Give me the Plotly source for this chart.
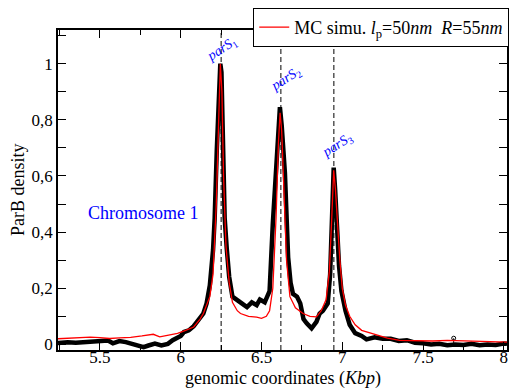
import plotly.graph_objects as go

# ---- data ----
exp_x = [5.24, 5.30, 5.35, 5.40, 5.45, 5.50, 5.55, 5.58, 5.62, 5.66, 5.70, 5.74, 5.77, 5.80, 5.84,
         5.88, 5.92, 5.95, 5.98, 6.00, 6.02, 6.05, 6.08, 6.10, 6.12, 6.14, 6.16, 6.18, 6.20, 6.21,
         6.223, 6.235, 6.245, 6.252, 6.262, 6.272, 6.285, 6.30, 6.32, 6.35, 6.38, 6.41, 6.44, 6.47,
         6.49, 6.52, 6.55, 6.57, 6.594, 6.608, 6.614, 6.625, 6.645, 6.665, 6.68, 6.695, 6.72, 6.74,
         6.76, 6.78, 6.81, 6.84, 6.86, 6.88, 6.91, 6.925, 6.933, 6.947, 6.956, 6.966, 6.98, 6.995,
         7.02, 7.046, 7.08, 7.12, 7.15, 7.20, 7.25, 7.30, 7.35, 7.40, 7.45, 7.50, 7.55, 7.60, 7.65,
         7.70, 7.75, 7.80, 7.85, 7.90, 7.95, 8.00, 8.02]
exp_y = [0.005, 0.008, 0.006, 0.008, 0.006, 0.008, 0.014, 0.004, 0.012, 0.008, 0.002, -0.008, -0.010,
         -0.004, 0.003, -0.004, 0.002, 0.015, 0.025, 0.030, 0.044, 0.050, 0.065, 0.080, 0.093, 0.110,
         0.146, 0.210, 0.336, 0.450, 0.690, 0.900, 1.000, 0.970, 0.600, 0.450, 0.340, 0.240, 0.170,
         0.155, 0.145, 0.133, 0.150, 0.140, 0.160, 0.150, 0.190, 0.430, 0.670, 0.820, 0.845, 0.780,
         0.610, 0.310, 0.220, 0.180, 0.170, 0.146, 0.090, 0.075, 0.057, 0.080, 0.110, 0.120, 0.146,
         0.250, 0.430, 0.630, 0.550, 0.430, 0.280, 0.190, 0.120, 0.070, 0.040, 0.030, 0.018, 0.025,
         0.020, 0.020, 0.012, 0.015, 0.006, 0.004, 0.000, 0.002, -0.003, 0.000, -0.002, 0.002, -0.003,
         0.000, -0.002, 0.003, 0.002]

sim_x = [5.24, 5.30, 5.36, 5.44, 5.50, 5.56, 5.62, 5.69, 5.76, 5.83, 5.87, 5.92, 5.98, 6.03, 6.08,
         6.12, 6.14, 6.18, 6.20, 6.22, 6.235, 6.245, 6.255, 6.265, 6.28, 6.30, 6.32, 6.35, 6.37, 6.42,
         6.47, 6.50, 6.53, 6.55, 6.57, 6.59, 6.605, 6.615, 6.625, 6.64, 6.655, 6.676, 6.71, 6.757,
         6.80, 6.84, 6.87, 6.90, 6.92, 6.935, 6.947, 6.958, 6.97, 6.985, 7.00, 7.02, 7.046, 7.08,
         7.12, 7.15, 7.21, 7.28, 7.355, 7.45, 7.56, 7.65, 7.75, 7.85, 7.95, 8.02]
sim_y = [0.020, 0.022, 0.024, 0.026, 0.024, 0.021, 0.023, 0.025, 0.030, 0.036, 0.027, 0.033, 0.039,
         0.050, 0.062, 0.090, 0.110, 0.170, 0.250, 0.500, 0.850, 1.000, 0.900, 0.600, 0.350, 0.220,
         0.150, 0.120, 0.110, 0.100, 0.097, 0.093, 0.100, 0.120, 0.200, 0.450, 0.720, 0.825, 0.760,
         0.500, 0.300, 0.170, 0.130, 0.110, 0.100, 0.098, 0.120, 0.160, 0.260, 0.450, 0.620, 0.550,
         0.420, 0.300, 0.200, 0.140, 0.100, 0.070, 0.050, 0.045, 0.035, 0.022, 0.014, 0.012, 0.012,
         0.014, 0.012, 0.010, 0.008, 0.008]

outlier_x = [7.69]
outlier_y = [0.022]

pars_pos = [6.25, 6.62, 6.948]
pars_labels = ["<i>parS</i><sub>1</sub>", "<i>parS</i><sub>2</sub>", "<i>parS</i><sub>3</sub>"]
pars_label_x = [6.256, 6.65, 6.97]
pars_label_y = [1.05, 0.943, 0.71]

x_range = [5.24, 8.02]
x_tickvals = [5.5, 6, 6.5, 7, 7.5, 8]
x_ticktext = ["5.5", "6", "6.5", "7", "7.5", "8"]
y_tickvals = [0, 0.2, 0.4, 0.6, 0.8, 1.0]
y_ticktext = ["0", "0,2", "0,4", "0,6", "0,8", "1"]

FONT = "Liberation Serif"

fig = go.Figure()

fig.add_trace(go.Scatter(x=exp_x, y=exp_y, mode="lines", line=dict(color="black", width=4.5),
                         showlegend=False, hoverinfo="skip"))
fig.add_trace(go.Scatter(x=outlier_x, y=outlier_y, mode="markers",
                         marker=dict(symbol="circle-open", size=4, color="black", line=dict(width=1)),
                         error_y=dict(type="data", array=[0], arrayminus=[0.02], color="black",
                                      thickness=1, width=0),
                         showlegend=False, hoverinfo="skip"))
fig.add_trace(go.Scatter(x=sim_x, y=sim_y, mode="lines", line=dict(color="red", width=1.3),
                         name="MC simu. <i>l</i><sub>p</sub>=50<i>nm</i>&nbsp;&nbsp;<i>R</i>=55<i>nm</i>",
                         showlegend=True, hoverinfo="skip"))
# empty trace that only activates the tick-label axis (x2)
fig.add_trace(go.Scatter(x=x_range, y=[None, None], xaxis="x2", yaxis="y", mode="lines",
                         showlegend=False, hoverinfo="skip"))

for p in pars_pos:
    fig.add_shape(type="line", xref="x", yref="paper", x0=p, x1=p, y0=0, y1=1,
                  line=dict(color="black", width=1, dash="5px,3px"), layer="below")

for lx, ly, txt in zip(pars_label_x, pars_label_y, pars_labels):
    fig.add_annotation(x=lx, y=ly, text=txt, showarrow=False, textangle=-33,
                       font=dict(family=FONT, size=14, color="blue"))

fig.add_annotation(x=5.77, y=0.468, text="Chromosome 1", showarrow=False,
                   font=dict(family=FONT, size=18, color="blue"))

# axis titles
fig.add_annotation(xref="paper", yref="paper", x=0.5, y=-0.0875, yanchor="middle",
                   text="genomic coordinates (<i>Kbp</i>)", showarrow=False,
                   font=dict(family=FONT, size=18, color="black"))
fig.add_annotation(xref="paper", yref="paper", x=-0.089, y=0.5, xanchor="center", yanchor="middle",
                   text="ParB density", showarrow=False, textangle=-90,
                   font=dict(family=FONT, size=18, color="black"))

axis_common = dict(showgrid=False, zeroline=False, showline=True, linecolor="black", linewidth=1.5,
                   mirror="allticks", ticks="inside", ticklen=8, tickwidth=1, tickcolor="black",
                   tickfont=dict(family=FONT, size=17, color="black"), automargin=False)

fig.update_layout(
    width=510, height=388,
    margin=dict(l=58, r=3, t=30, b=38, autoexpand=False),
    paper_bgcolor="white", plot_bgcolor="white",
    font=dict(family=FONT, color="black"),
    xaxis=dict(range=x_range, tickvals=x_tickvals, ticktext=x_ticktext, showticklabels=False,
               minor=dict(dtick=0.25, tick0=5.0, ticks="inside", ticklen=5, tickcolor="black", tickwidth=1),
               **axis_common),
    yaxis=dict(range=[-0.02, 1.12], tickvals=y_tickvals, ticktext=y_ticktext,
               minor=dict(dtick=0.1, tick0=0, ticks="inside", ticklen=5, tickcolor="black", tickwidth=1),
               **axis_common),
    xaxis2=dict(overlaying="x", anchor="free", position=0.016, side="bottom", range=x_range,
                tickvals=x_tickvals, ticktext=x_ticktext, showline=False, showgrid=False,
                zeroline=False, ticks="", tickfont=dict(family=FONT, size=17, color="black"),
                automargin=False, fixedrange=True),
    legend=dict(x=1.005, xanchor="right", y=1.069, yanchor="top", bgcolor="white",
                bordercolor="black", borderwidth=1, font=dict(family=FONT, size=18, color="black"),
                itemwidth=30, tracegroupgap=0),
)

fig.write_html("out.html", config={"displayModeBar": False},
               post_script="document.body.style.margin='0';document.body.style.padding='0';")
